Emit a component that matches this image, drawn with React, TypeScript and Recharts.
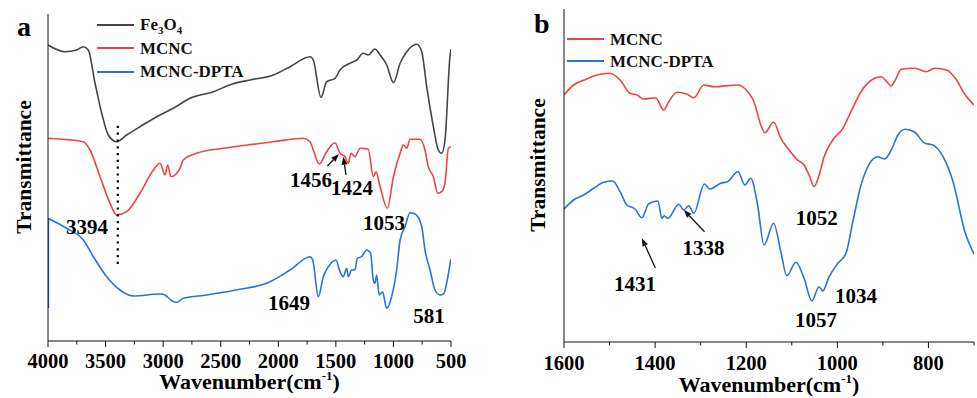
import React from "react";
import {
  LineChart,
  Line,
  XAxis,
  YAxis,
  ReferenceLine,
  ReferenceDot,
  Legend,
} from "recharts";

const FONT = '"Liberation Serif", "Times New Roman", serif';
const GRAY = "#454545";
const RED = "#f04343";
const BLUE = "#2a72de";
const INK = "#111";

// FTIR spectra: [wavenumber cm-1, transmittance (offset, a.u.)]
// panel a
const fe3o4A: [number, number][] = [
  [4000, 296], [3852, 289.3], [3751, 291], [3693, 294.3], [3650, 291],
  [3592, 258], [3534, 228], [3476, 206], [3404, 199.3], [3317, 206],
  [3201, 214.3], [3056, 224.3], [2912, 232.7], [2767, 242.7], [2564, 249.3],
  [2400, 257], [2246, 261], [2043, 266], [1898, 274.3], [1724, 284.3],
  [1696, 281], [1629, 243.7], [1580, 259.3], [1507, 262.7], [1464, 271],
  [1377, 277.7], [1319, 281], [1262, 287.7], [1218, 286], [1160, 292],
  [1116, 286], [1058, 276], [1000, 258.3], [942, 277.7], [884, 289.3],
  [797, 296.7], [754, 289.3], [711, 254.3], [653, 214.3], [610, 191],
  [581, 187.7], [552, 201], [509, 284.3], [500, 292],
];

const mcncA: [number, number][] = [
  [4000, 202.7], [3693, 199.3], [3635, 191], [3548, 164.3], [3461, 137.7],
  [3404, 126], [3317, 129.3], [3201, 147.7], [3085, 171], [3027, 177.7],
  [2984, 166], [2960, 176], [2932, 164.3], [2854, 172.7], [2825, 181],
  [2709, 187.7], [2477, 192.7], [2300, 195.5], [2043, 199.3], [1783, 202.7],
  [1724, 199.3], [1696, 191], [1644, 177], [1580, 189.3], [1507, 198.3],
  [1464, 187.7], [1420, 184.3], [1392, 177.7], [1368, 187.7], [1334, 184.3],
  [1290, 192.7], [1218, 191.7], [1175, 164.3], [1151, 169.3], [1116, 154.3],
  [1053, 132.7], [1000, 164.3], [942, 187.7], [914, 196], [884, 192.7],
  [856, 201.7], [769, 201.7], [726, 191], [697, 174.3], [653, 164.3],
  [615, 147.7], [581, 149.3], [552, 157.7], [523, 192.7], [502, 194.3],
];

const dptaA: [number, number][] = [
  [4000, 122.7], [3838, 112.7], [3693, 101], [3606, 84.3], [3490, 64.3],
  [3375, 51], [3259, 45], [3027, 47], [2984, 46], [2926, 40.3],
  [2882, 38.7], [2825, 42.7], [2622, 46], [2332, 51.7], [2101, 57.7],
  [1898, 71], [1724, 84.3], [1701, 81], [1652, 44.3], [1609, 64.3],
  [1565, 74.3], [1499, 81], [1464, 69.3], [1435, 64.3], [1406, 72.7],
  [1392, 64.3], [1363, 71], [1334, 71], [1314, 82.7], [1276, 84.3],
  [1233, 91], [1198, 87.7], [1175, 61], [1160, 57.7], [1146, 66],
  [1123, 46], [1094, 49.3], [1059, 32.7], [1016, 44.3], [972, 71],
  [942, 101], [899, 114.3], [856, 128.3], [812, 127], [754, 114.3],
  [726, 91], [682, 71], [639, 51], [596, 46], [561, 47.7],
  [538, 57.7], [502, 81.7],
];

// the DPTA trace starts with a jump at the 4000 edge
const dptaEdgeA: [number, number][] = [[4000, 33], [4000, 122.7]];

// panel b (zoom 1600-700)
const mcncB: [number, number][] = [
  [1600, 247], [1579, 257], [1550, 263], [1528, 267], [1499, 268.7],
  [1477, 262], [1455, 248.7], [1440, 247], [1425, 243], [1399, 244.3],
  [1381, 232], [1370, 240.3], [1352, 249.7], [1330, 247.7], [1315, 244.3],
  [1293, 257], [1271, 255.3], [1219, 257], [1194, 248.7], [1183, 240.3],
  [1168, 217], [1159, 209.3], [1140, 219.7], [1124, 203.7], [1109, 193.7],
  [1087, 182], [1073, 177], [1062, 167], [1051, 155.3], [1040, 167],
  [1029, 185.3], [1010, 202], [988, 213.7], [970, 230.3], [948, 250.3],
  [918, 263.7], [904, 265.3], [890, 259.7], [882, 256], [871, 263.7],
  [860, 272.7], [830, 273.7], [805, 270.3], [786, 273.7], [760, 272],
  [741, 263.7], [719, 247], [700, 237],
];

const dptaB: [number, number][] = [
  [1600, 133], [1579, 142], [1557, 147], [1535, 153.7], [1513, 159.7],
  [1493, 161], [1477, 150.3], [1462, 137], [1444, 133], [1429, 124.3],
  [1414, 138.3], [1394, 141], [1385, 123.7], [1380, 126.3], [1372, 123.7],
  [1348, 137.7], [1337, 132], [1326, 136.3], [1315, 128.7], [1292, 158],
  [1280, 153], [1256, 158.7], [1241, 160.3], [1218, 170.3], [1203, 157],
  [1190, 163.7], [1175, 137], [1161, 97], [1140, 118.7], [1124, 90.3],
  [1111, 66.3], [1091, 79.7], [1073, 63.7], [1056, 41], [1040, 55.3],
  [1032, 51], [1018, 65.3], [999, 78.7], [981, 88.7], [966, 120.3],
  [948, 157], [929, 178.7], [911, 185.3], [896, 183], [880, 193.7],
  [867, 207], [851, 212.7], [830, 209.7], [808, 198.7], [790, 197],
  [768, 185.3], [746, 160.3], [720, 110.3], [700, 88],
];

const ticksMajorA = [4000, 3500, 3000, 2500, 2000, 1500, 1000, 500];
const ticksMinorA = [3750, 3250, 2750, 2250, 1750, 1250, 750];
const ticksMajorB = [1600, 1400, 1200, 1000, 800];
const ticksMinorB = [1500, 1300, 1100, 900, 700];

// peak labels, placed at [wavenumber, transmittance] of the text baseline
const peaksA = [
  { label: "3394", wn: 3661, t: 107 },
  { label: "1456", wn: 1716, t: 154 },
  { label: "1424", wn: 1360, t: 146 },
  { label: "1053", wn: 1082, t: 111 },
  { label: "1649", wn: 1907, t: 31.5 },
  { label: "581", wn: 691, t: 18 },
];
const peaksB = [
  { label: "1052", wn: 1045, t: 117 },
  { label: "1057", wn: 1047, t: 15.5 },
  { label: "1034", wn: 959, t: 39 },
  { label: "1338", wn: 1294, t: 87 },
  { label: "1431", wn: 1444, t: 51 },
];

const arrowsA = [
  { from: [1574, 175], to: [1473, 187] },
  { from: [1412, 166], to: [1435, 184.3] },
];
const arrowsB = [
  { from: [1399.5, 74], to: [1429, 103.7] },
  { from: [1291.5, 110.3], to: [1337, 132] },
];

const guideA = { wn: 3394, from: 77, to: 218 };

const rows = (pts: [number, number][]) => pts.map(([wn, t]) => ({ wn, t }));

function makeTick(major: number[], labelDy: number) {
  return (props: any) => {
    const { x, y, payload } = props;
    const isMajor = major.includes(payload.value);
    return (
      <g>
        <line x1={x} y1={y} x2={x} y2={y + (isMajor ? 6 : 3.5)} stroke={INK} />
        {isMajor && (
          <text
            x={x}
            y={y + labelDy}
            textAnchor="middle"
            fontFamily={FONT}
            fontWeight="bold"
            fontSize={20.5}
            fill="#000"
          >
            {payload.value}
          </text>
        )}
      </g>
    );
  };
}

function xTitle(dy: number) {
  return (props: any) => {
    const { viewBox } = props;
    const cx = viewBox.x + viewBox.width / 2;
    return (
      <text
        x={cx}
        y={viewBox.y + dy}
        textAnchor="middle"
        fontFamily={FONT}
        fontWeight="bold"
        fontSize={22}
        fill="#000"
      >
        <tspan>Wavenumber(cm</tspan>
        <tspan dy={-9} fontSize={13}>-1</tspan>
        <tspan dy={9}>)</tspan>
      </text>
    );
  };
}

function yTitle(bx: number, cy: number) {
  return () => (
    <text
      x={bx}
      y={cy}
      transform={`rotate(-90, ${bx}, ${cy})`}
      textAnchor="middle"
      fontFamily={FONT}
      fontWeight="bold"
      fontSize={21.5}
      fill="#000"
    >
      Transmittance
    </text>
  );
}

function Arrow(props: any) {
  const { x1, y1, x2, y2 } = props;
  const ang = Math.atan2(y2 - y1, x2 - x1);
  const len = 8;
  const half = 3;
  const bx = x2 - len * Math.cos(ang);
  const by = y2 - len * Math.sin(ang);
  const px = -Math.sin(ang) * half;
  const py = Math.cos(ang) * half;
  return (
    <g>
      <line x1={x1} y1={y1} x2={bx} y2={by} stroke={INK} strokeWidth={1.3} />
      <polygon
        points={`${x2},${y2} ${bx + px},${by + py} ${bx - px},${by - py}`}
        fill={INK}
      />
    </g>
  );
}

function PeakText(label: string) {
  return (props: any) => (
    <text
      x={props.cx}
      y={props.cy}
      textAnchor="middle"
      fontFamily={FONT}
      fontWeight="bold"
      fontSize={21}
      fill="#000"
    >
      {label}
    </text>
  );
}

function LegendBox({
  items,
  rowH,
}: {
  items: { name: React.ReactNode; color: string }[];
  rowH: number;
}) {
  return (
    <div style={{ fontFamily: FONT, fontWeight: "bold", fontSize: 17, color: INK }}>
      {items.map((it, i) => (
        <div key={i} style={{ display: "flex", alignItems: "center", height: rowH, lineHeight: 1 }}>
          <span style={{ width: 37, borderTop: `2px solid ${it.color}`, marginRight: 6 }} />
          <span>{it.name}</span>
        </div>
      ))}
    </div>
  );
}

const subStyle: React.CSSProperties = { fontSize: 11, verticalAlign: -4, lineHeight: 0 };

function PanelA() {
  return (
    <LineChart width={470} height={398} margin={{ top: 14, right: 19, bottom: 0, left: 0 }}>
      <XAxis
        dataKey="wn"
        type="number"
        domain={[500, 4000]}
        reversed
        allowDataOverflow
        ticks={[...ticksMajorA, ...ticksMinorA]}
        interval={0}
        tickLine={false}
        tickSize={0}
        tickMargin={0}
        tick={makeTick(ticksMajorA, 27)}
        height={57}
        stroke={INK}
        label={{ content: xTitle(48) }}
      />
      <XAxis xAxisId="top" orientation="top" type="number" domain={[500, 4000]} reversed height={0} tick={false} tickLine={false} stroke={INK} />
      <YAxis type="number" domain={[0, 327]} width={48} tick={false} tickLine={false} stroke={INK} label={{ content: yTitle(31, 167) }} />
      <YAxis yAxisId="right" orientation="right" width={0} tick={false} tickLine={false} stroke={INK} />
      <Legend
        layout="vertical"
        align="center"
        verticalAlign="middle"
        wrapperStyle={{ left: 97, top: 13, width: "auto" }}
        content={() => (
          <LegendBox
            rowH={23.5}
            items={[
              { name: <span>Fe<sub style={subStyle}>3</sub>O<sub style={subStyle}>4</sub></span>, color: GRAY },
              { name: "MCNC", color: RED },
              { name: "MCNC-DPTA", color: BLUE },
            ]}
          />
        )}
      />
      <Line data={rows(fe3o4A)} dataKey="t" type="monotone" stroke={GRAY} strokeWidth={1.6} dot={false} isAnimationActive={false} legendType="none" />
      <Line data={rows(mcncA)} dataKey="t" type="monotone" stroke={RED} strokeWidth={1.6} dot={false} isAnimationActive={false} legendType="none" />
      <Line data={rows(dptaA)} dataKey="t" type="monotone" stroke={BLUE} strokeWidth={1.6} dot={false} isAnimationActive={false} legendType="none" />
      <Line data={rows(dptaEdgeA)} dataKey="t" type="linear" stroke={BLUE} strokeWidth={2.4} dot={false} isAnimationActive={false} legendType="none" />
      <ReferenceLine
        segment={[{ x: guideA.wn, y: guideA.from }, { x: guideA.wn, y: guideA.to }]}
        stroke="#000"
        strokeWidth={2.2}
        strokeDasharray="2.2 4.6"
      />
      {arrowsA.map((a, i) => (
        <ReferenceLine key={`aa${i}`} segment={[{ x: a.from[0], y: a.from[1] }, { x: a.to[0], y: a.to[1] }]} shape={Arrow} />
      ))}
      {peaksA.map((p) => (
        <ReferenceDot key={p.label} x={p.wn} y={p.t} r={0} shape={PeakText(p.label)} />
      ))}
    </LineChart>
  );
}

function PanelB() {
  return (
    <LineChart width={457} height={398} margin={{ top: 9, right: 3, bottom: 0, left: 0 }}>
      <XAxis
        dataKey="wn"
        type="number"
        domain={[700, 1600]}
        reversed
        allowDataOverflow
        ticks={[...ticksMajorB, ...ticksMinorB]}
        interval={0}
        tickLine={false}
        tickSize={0}
        tickMargin={0}
        tick={makeTick(ticksMajorB, 28)}
        height={56}
        stroke={INK}
        label={{ content: xTitle(50) }}
      />
      <XAxis xAxisId="top" orientation="top" type="number" domain={[700, 1600]} reversed height={0} tick={false} tickLine={false} stroke={INK} />
      <YAxis type="number" domain={[0, 333]} width={44} tick={false} tickLine={false} stroke={INK} label={{ content: yTitle(25, 165) }} />
      <YAxis yAxisId="right" orientation="right" width={0} tick={false} tickLine={false} stroke={INK} />
      <Legend
        layout="vertical"
        align="center"
        verticalAlign="middle"
        wrapperStyle={{ left: 47, top: 28.5, width: "auto" }}
        content={() => (
          <LegendBox
            rowH={21.7}
            items={[
              { name: "MCNC", color: RED },
              { name: "MCNC-DPTA", color: BLUE },
            ]}
          />
        )}
      />
      <Line data={rows(mcncB)} dataKey="t" type="monotone" stroke={RED} strokeWidth={1.6} dot={false} isAnimationActive={false} legendType="none" />
      <Line data={rows(dptaB)} dataKey="t" type="monotone" stroke={BLUE} strokeWidth={1.6} dot={false} isAnimationActive={false} legendType="none" />
      {arrowsB.map((a, i) => (
        <ReferenceLine key={`ab${i}`} segment={[{ x: a.from[0], y: a.from[1] }, { x: a.to[0], y: a.to[1] }]} shape={Arrow} />
      ))}
      {peaksB.map((p) => (
        <ReferenceDot key={p.label} x={p.wn} y={p.t} r={0} shape={PeakText(p.label)} />
      ))}
    </LineChart>
  );
}

const panelLetter: React.CSSProperties = {
  position: "absolute",
  fontFamily: FONT,
  fontWeight: "bold",
  fontSize: 28,
  lineHeight: "28px",
  color: "#000",
};

export default function App() {
  return (
    <div style={{ position: "absolute", left: 0, top: 0, width: 977, height: 398, background: "#fff" }}>
      <div style={{ position: "absolute", left: 0, top: 0 }}>
        <PanelA />
      </div>
      <div style={{ position: "absolute", left: 520, top: 0 }}>
        <PanelB />
      </div>
      <div style={{ ...panelLetter, left: 17, top: 13 }}>a</div>
      <div style={{ ...panelLetter, left: 534, top: 9.5 }}>b</div>
    </div>
  );
}
